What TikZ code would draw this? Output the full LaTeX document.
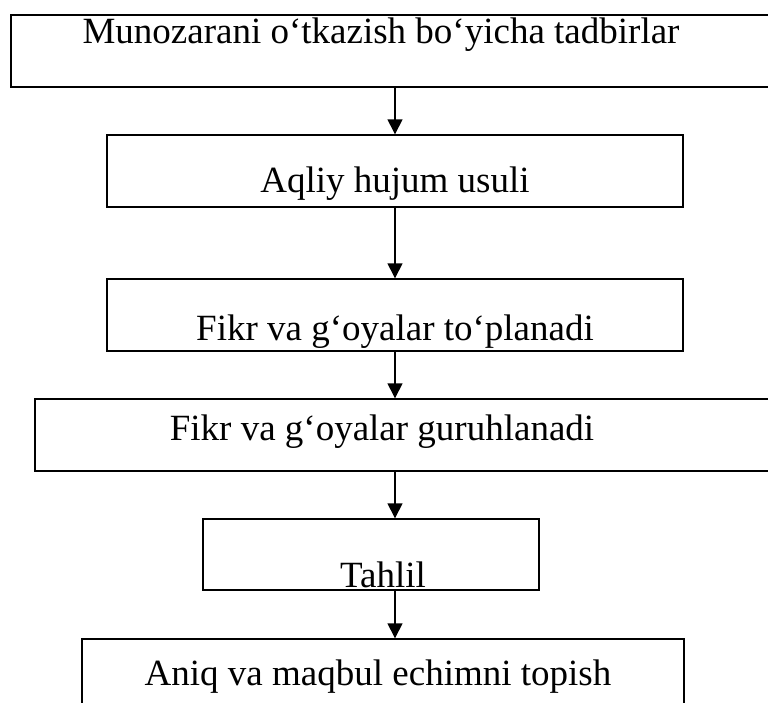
\documentclass[tikz,border=0pt]{standalone}
\usepackage{fontspec}
\setmainfont{Liberation Serif}
\usepackage{tikz}
\usetikzlibrary{arrows.meta,positioning}

\begin{document}
\begin{tikzpicture}[
  x=1pt,y=-1pt,
  stepbox/.style={rectangle,draw=black,line width=1.4pt,inner sep=0pt},
  steptext/.style={anchor=base,inner sep=0pt,font=\fontsize{37}{42}\selectfont},
  arr/.style={-{Triangle[length=15pt,width=15pt]},line width=1.4pt}]
\useasboundingbox (0,0) rectangle (768,702);
% boxes
\node[stepbox,minimum width=769pt,minimum height=72pt] (b1) at (395.5,51) {};
\node[stepbox,minimum width=576pt,minimum height=72pt] (b2) at (395,171) {};
\node[stepbox,minimum width=576pt,minimum height=72pt] (b3) at (395,315) {};
\node[stepbox,minimum width=755pt,minimum height=72pt] (b4) at (412.5,435) {};
\node[stepbox,minimum width=336pt,minimum height=71pt] (b5) at (371,554.5) {};
\node[stepbox,minimum width=602pt,minimum height=81pt] (b6) at (383,679.5) {};
% texts
\node[steptext] (t1) at (381,43) {Munozarani o‘tkazish bo‘yicha tadbirlar};
\node[steptext] (t2) at (395,192) {Aqliy hujum usuli};
\node[steptext] (t3) at (395,340) {Fikr va g‘oyalar to‘planadi};
\node[steptext] (t4) at (382,440) {Fikr va g‘oyalar guruhlanadi};
\node[steptext] (t5) at (383,587) {Tahlil};
\node[steptext] (t6) at (378,685) {Aniq va maqbul echimni topish};
\foreach \u/\v in {b1/b2,b2/b3,b3/b4,b4/b5,b5/b6}
  \draw[arr] (b2.north |- \u.south) -- (b2.north |- \v.north);
\end{tikzpicture}
\end{document}
